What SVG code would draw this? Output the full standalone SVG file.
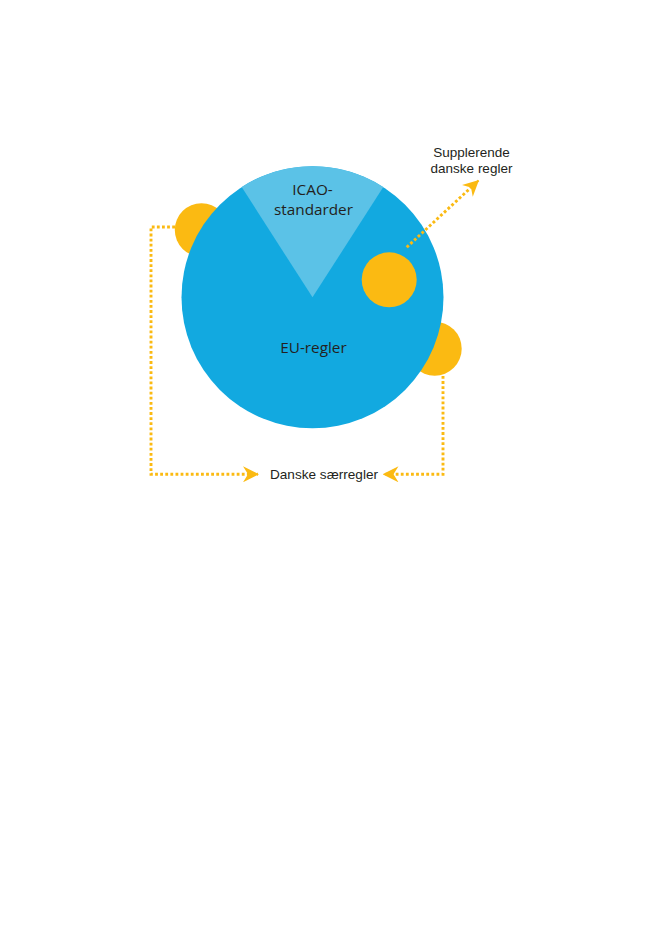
<svg xmlns="http://www.w3.org/2000/svg" width="661" height="933" viewBox="0 0 661 933">
  <style>
    .yellow { fill: #FBBA12; }
    .conn { fill: none; stroke: #FBBA12; stroke-width: 2.9; stroke-dasharray: 2.8 2.3; }
    .lbl { font-family: "Open Sans", "Noto Sans", sans-serif; fill: #231F20; text-anchor: middle; }
    .note { font-family: "Liberation Sans", Arial, sans-serif; fill: #231F20; text-anchor: middle; }
  </style>
  <defs>
    <marker id="arrow" viewBox="0 0 16 16" refX="15" refY="8" markerWidth="16" markerHeight="16" markerUnits="userSpaceOnUse" orient="auto">
      <path d="M0,0 L16,8 L0,16 L5,8 Z" fill="#FBBA12"/>
    </marker>
  </defs>
  <rect width="661" height="933" fill="#FFFFFF"/>

  <g id="dansk-saer-1">
    <circle class="yellow" cx="201.5" cy="230" r="26.7"/>
  </g>
  <g id="dansk-saer-2">
    <circle class="yellow" cx="434.7" cy="348.7" r="27"/>
  </g>

  <g id="eu-regler">
    <circle cx="312.5" cy="297.3" r="131" fill="#12A9E0"/>
    <text class="lbl" x="313.5" y="352.5" font-size="15.3">EU-regler</text>
  </g>

  <g id="icao">
    <path d="M312.5,297.3 L241.7,187.1 A131,131 0 0 1 383.3,187.1 Z" fill="#5BC2E7"/>
    <text class="lbl" x="312.5" y="194.5" font-size="15.3">ICAO-</text>
    <text class="lbl" x="313.5" y="214.5" font-size="15.3">standarder</text>
  </g>

  <g id="suppl-circle">
    <circle class="yellow" cx="389.2" cy="279.8" r="27.5"/>
  </g>

  <g id="connectors">
    <polyline class="conn" points="175,227 151,227 151,474.3 258,474.3" marker-end="url(#arrow)"/>
    <polyline class="conn" points="443,376 443,474.3 383.5,474.3" marker-end="url(#arrow)"/>
    <line class="conn" x1="406.7" y1="247.3" x2="478.3" y2="180.7" marker-end="url(#arrow)"/>
  </g>

  <g id="label-supplerende">
    <text class="note" x="471.5" y="157" font-size="13.5">Supplerende</text>
    <text class="note" x="471.5" y="173" font-size="13.5">danske regler</text>
  </g>
  <g id="label-saerregler">
    <text class="note" x="324" y="478.5" font-size="13.6">Danske særregler</text>
  </g>
</svg>
